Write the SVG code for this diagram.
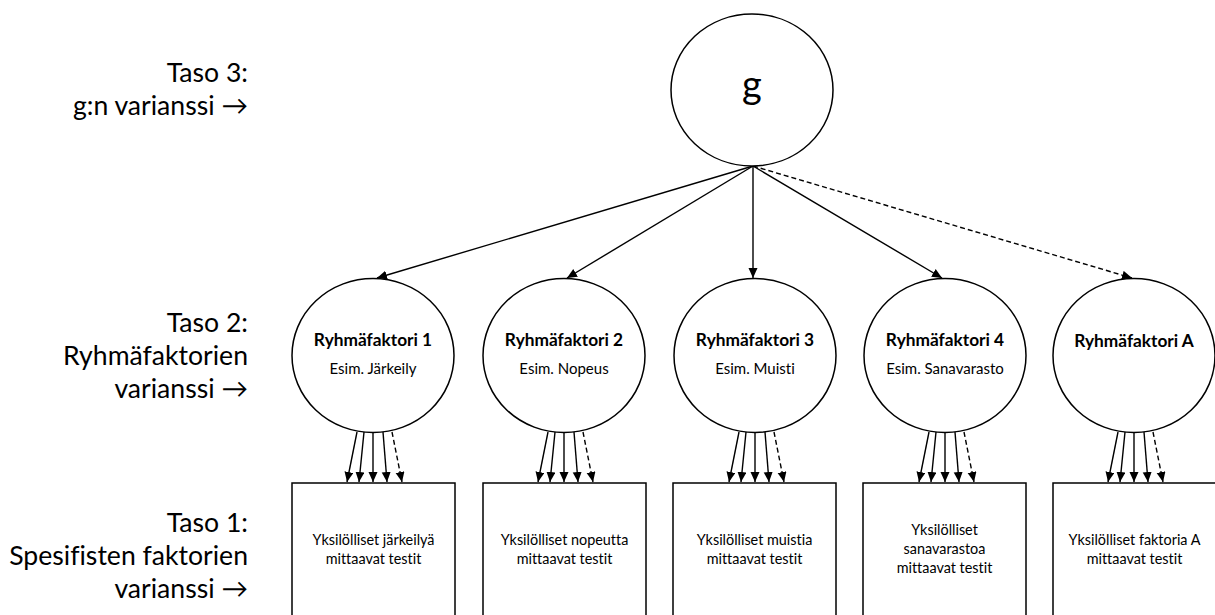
<svg xmlns="http://www.w3.org/2000/svg" width="1215" height="615" viewBox="0 0 1215 615">
<defs>
<marker id="ah" markerWidth="11" markerHeight="10" refX="10" refY="4.5" orient="auto" markerUnits="userSpaceOnUse">
<path d="M0,0 L10,4.5 L0,9 Z" fill="#000"/>
</marker>
<style>
.n{fill:#fff;stroke:#000;stroke-width:1.5}
.c{stroke:#000;stroke-width:1.4;fill:none;marker-end:url(#ah)}
.d{stroke-dasharray:5,3}
.lbl{font-family:Lato,"Open Sans",sans-serif;font-size:26.6px;fill:#000;text-anchor:end;font-variant-ligatures:none}
.t{font-family:Lato,"Open Sans",sans-serif;fill:#000;text-anchor:middle;font-variant-ligatures:none}
.b{font-size:17.3px;font-weight:bold}
.s{font-size:15px}
.x{font-size:14.4px}
</style>
</defs>
<g id="labels">
<text class="lbl" x="248" y="82">Taso 3:</text>
<text class="lbl" x="248" y="115">g:n varianssi →</text>
<text class="lbl" x="248" y="332">Taso 2:</text>
<text class="lbl" x="248" y="365">Ryhmäfaktorien</text>
<text class="lbl" x="248" y="398">varianssi →</text>
<text class="lbl" x="248" y="532">Taso 1:</text>
<text class="lbl" x="248" y="565">Spesifisten faktorien</text>
<text class="lbl" x="248" y="598">varianssi →</text>
</g>
<g id="connectors">
<line class="c" x1="753" y1="166" x2="377" y2="278"/>
<line class="c" x1="753" y1="166" x2="567" y2="278"/>
<line class="c" x1="753" y1="166" x2="753" y2="278"/>
<line class="c" x1="753" y1="166" x2="942" y2="278"/>
<line class="c d" x1="753" y1="166" x2="1132" y2="278"/>
<g transform="translate(373,0)">
<line class="c" x1="-16" y1="432" x2="-26" y2="482"/>
<line class="c" x1="-9" y1="432" x2="-14" y2="482"/>
<line class="c" x1="0" y1="432" x2="0" y2="482"/>
<line class="c" x1="10" y1="432" x2="14" y2="482"/>
<line class="c d" x1="19" y1="432" x2="29" y2="482"/>
</g>
<g transform="translate(564,0)">
<line class="c" x1="-16" y1="432" x2="-26" y2="482"/>
<line class="c" x1="-9" y1="432" x2="-14" y2="482"/>
<line class="c" x1="0" y1="432" x2="0" y2="482"/>
<line class="c" x1="10" y1="432" x2="14" y2="482"/>
<line class="c d" x1="19" y1="432" x2="29" y2="482"/>
</g>
<g transform="translate(755,0)">
<line class="c" x1="-16" y1="432" x2="-26" y2="482"/>
<line class="c" x1="-9" y1="432" x2="-14" y2="482"/>
<line class="c" x1="0" y1="432" x2="0" y2="482"/>
<line class="c" x1="10" y1="432" x2="14" y2="482"/>
<line class="c d" x1="19" y1="432" x2="29" y2="482"/>
</g>
<g transform="translate(945,0)">
<line class="c" x1="-16" y1="432" x2="-26" y2="482"/>
<line class="c" x1="-9" y1="432" x2="-14" y2="482"/>
<line class="c" x1="0" y1="432" x2="0" y2="482"/>
<line class="c" x1="10" y1="432" x2="14" y2="482"/>
<line class="c d" x1="19" y1="432" x2="29" y2="482"/>
</g>
<g transform="translate(1134,0)">
<line class="c" x1="-16" y1="432" x2="-26" y2="482"/>
<line class="c" x1="-9" y1="432" x2="-14" y2="482"/>
<line class="c" x1="0" y1="432" x2="0" y2="482"/>
<line class="c" x1="10" y1="432" x2="14" y2="482"/>
<line class="c d" x1="19" y1="432" x2="29" y2="482"/>
</g>
</g>
<g id="g">
<ellipse class="n" cx="752" cy="90" rx="81" ry="76"/>
<text class="t" x="752" y="98" font-size="38">g</text>
</g>
<g id="rf1">
<ellipse class="n" cx="373" cy="355.5" rx="81" ry="77"/>
<text class="t b" x="373" y="346">Ryhmäfaktori 1</text>
<text class="t s" x="373" y="374">Esim. Järkeily</text>
</g>
<g id="rf2">
<ellipse class="n" cx="564" cy="355.5" rx="81" ry="77"/>
<text class="t b" x="564" y="346">Ryhmäfaktori 2</text>
<text class="t s" x="564" y="374">Esim. Nopeus</text>
</g>
<g id="rf3">
<ellipse class="n" cx="755" cy="355.5" rx="81" ry="77"/>
<text class="t b" x="755" y="346">Ryhmäfaktori 3</text>
<text class="t s" x="755" y="374">Esim. Muisti</text>
</g>
<g id="rf4">
<ellipse class="n" cx="945" cy="355.5" rx="81" ry="77"/>
<text class="t b" x="945" y="346">Ryhmäfaktori 4</text>
<text class="t s" x="945" y="374">Esim. Sanavarasto</text>
</g>
<g id="rfA">
<ellipse class="n" cx="1134" cy="355.5" rx="81" ry="77"/>
<text class="t b" x="1134" y="347">Ryhmäfaktori A</text>
</g>
<g id="box1">
<rect class="n" x="292" y="483" width="163" height="140"/>
<text class="t x" x="373.5" y="545">Yksilölliset järkeilyä</text>
<text class="t x" x="373.5" y="564">mittaavat testit</text>
</g>
<g id="box2">
<rect class="n" x="483" y="483" width="163" height="140"/>
<text class="t x" x="564.5" y="545">Yksilölliset nopeutta</text>
<text class="t x" x="564.5" y="564">mittaavat testit</text>
</g>
<g id="box3">
<rect class="n" x="673" y="483" width="163" height="140"/>
<text class="t x" x="754.5" y="545">Yksilölliset muistia</text>
<text class="t x" x="754.5" y="564">mittaavat testit</text>
</g>
<g id="box4">
<rect class="n" x="863" y="483" width="163" height="140"/>
<text class="t x" x="944.5" y="535">Yksilölliset</text>
<text class="t x" x="944.5" y="554">sanavarastoa</text>
<text class="t x" x="944.5" y="573">mittaavat testit</text>
</g>
<g id="boxA">
<rect class="n" x="1053" y="483" width="163" height="140"/>
<text class="t x" x="1134.5" y="545">Yksilölliset faktoria A</text>
<text class="t x" x="1134.5" y="564">mittaavat testit</text>
</g>
</svg>
